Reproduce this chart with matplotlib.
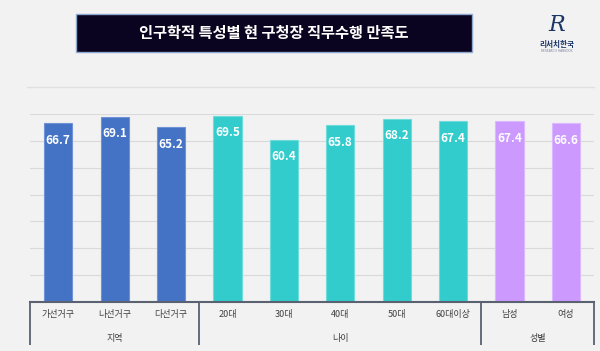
"""Bar chart of job satisfaction by demographic group."""

import matplotlib

matplotlib.use("Agg")
import matplotlib.pyplot as plt
from matplotlib.patches import Rectangle

plt.rcParams["font.family"] = ["Noto Sans CJK KR", "DejaVu Sans"]

TITLE = "인구학적 특성별 현 구청장 직무수행 만족도"

CATEGORIES = ["가선거구", "나선거구", "다선거구", "20대", "30대", "40대", "50대", "60대이상", "남성", "여성"]
VALUES = [66.7, 69.1, 65.2, 69.5, 60.4, 65.8, 68.2, 67.4, 67.4, 66.6]

GROUPS = ["지역", "나이", "성별"]
GROUP_SIZES = [3, 5, 2]
GROUP_COLORS = ["#4472c4", "#33cccc", "#cc99ff"]
GROUP_EDGES = ["#6f93d6", "#6fdcdc", "#dbb8ff"]

BG = "#f2f2f2"
AXIS_COLOR = "#5a6272"


def main() -> None:
    fig = plt.figure(figsize=(6.0, 3.51), dpi=100, facecolor=BG)
    ax = fig.add_axes([0.05, 0.1405, 0.94, 0.534])
    ax.set_facecolor(BG)

    colors, edges = [], []
    for size, color, edge in zip(GROUP_SIZES, GROUP_COLORS, GROUP_EDGES):
        colors += [color] * size
        edges += [edge] * size

    x = list(range(len(CATEGORIES)))
    bars = ax.bar(x, VALUES, width=0.5, color=colors, edgecolor=edges, linewidth=0.8, zorder=3)

    for bar, value in zip(bars, VALUES):
        ax.annotate(
            f"{value:.1f}",
            (bar.get_x() + bar.get_width() / 2, value),
            xytext=(0, -7.5),
            textcoords="offset points",
            ha="center",
            va="top",
            color="white",
            fontsize=8.5,
            fontweight="bold",
            zorder=4,
        )

    ax.set_xlim(-0.5, len(CATEGORIES) - 0.5)
    ax.set_ylim(0, 70)
    ax.set_yticks(range(0, 71, 10))
    ax.yaxis.grid(True, color="#d9d9d9", linewidth=0.8, zorder=0)
    ax.tick_params(left=False, labelleft=False, bottom=False, labelbottom=False)
    for side in ["top", "left", "right"]:
        ax.spines[side].set_visible(False)
    ax.spines["bottom"].set_color(AXIS_COLOR)
    ax.spines["bottom"].set_linewidth(1.5)
    ax.spines["bottom"].set_zorder(5)

    trans = ax.get_xaxis_transform()
    for xi, label in zip(x, CATEGORIES):
        ax.text(xi, -0.071, label, transform=trans, ha="center", va="center",
                fontsize=6.5, color="#404040", clip_on=False)

    # group brackets under the axis
    start = -0.5
    bounds = [start]
    for name, size in zip(GROUPS, GROUP_SIZES):
        end = start + size
        ax.text((start + end) / 2, -0.199, name, transform=trans, ha="center", va="center",
                fontsize=6.5, color="#404040", clip_on=False)
        bounds.append(end)
        start = end
    for b in bounds:
        ax.plot([b, b], [0, -0.231], transform=trans, color=AXIS_COLOR, linewidth=1.3,
                clip_on=False, solid_capstyle="butt")

    # title box
    fig.patches.append(Rectangle((76 / 600, 1 - 52.3 / 351), (472 - 76) / 600, 38.3 / 351,
                                 transform=fig.transFigure, facecolor="#0a0420",
                                 edgecolor="#8fa8d0", linewidth=1.0))
    fig.text(274 / 600, 1 - 33 / 351, TITLE, ha="center", va="center", color="white",
             fontsize=11, fontweight="bold")

    # separator line
    fig.add_artist(plt.Line2D([27 / 600, 594 / 600], [1 - 87.3 / 351] * 2,
                              transform=fig.transFigure, color="#e0e0e0", linewidth=1.0))

    # logo
    fig.text(557 / 600, 1 - 25 / 351, "R", ha="center", va="center", color="#1c3567",
             fontsize=16, family="DejaVu Serif", style="italic")
    fig.text(557 / 600, 1 - 45 / 351, "리서치한국", ha="center", va="center", color="#1c3567",
             fontsize=5.5, fontweight="bold")
    fig.text(557 / 600, 1 - 51 / 351, "RESEARCH HANKOOK", ha="center", va="center",
             color="#7a869c", fontsize=2.2, family="DejaVu Sans")

    fig.savefig("out.png", dpi=100, facecolor=BG)


if __name__ == "__main__":
    main()
